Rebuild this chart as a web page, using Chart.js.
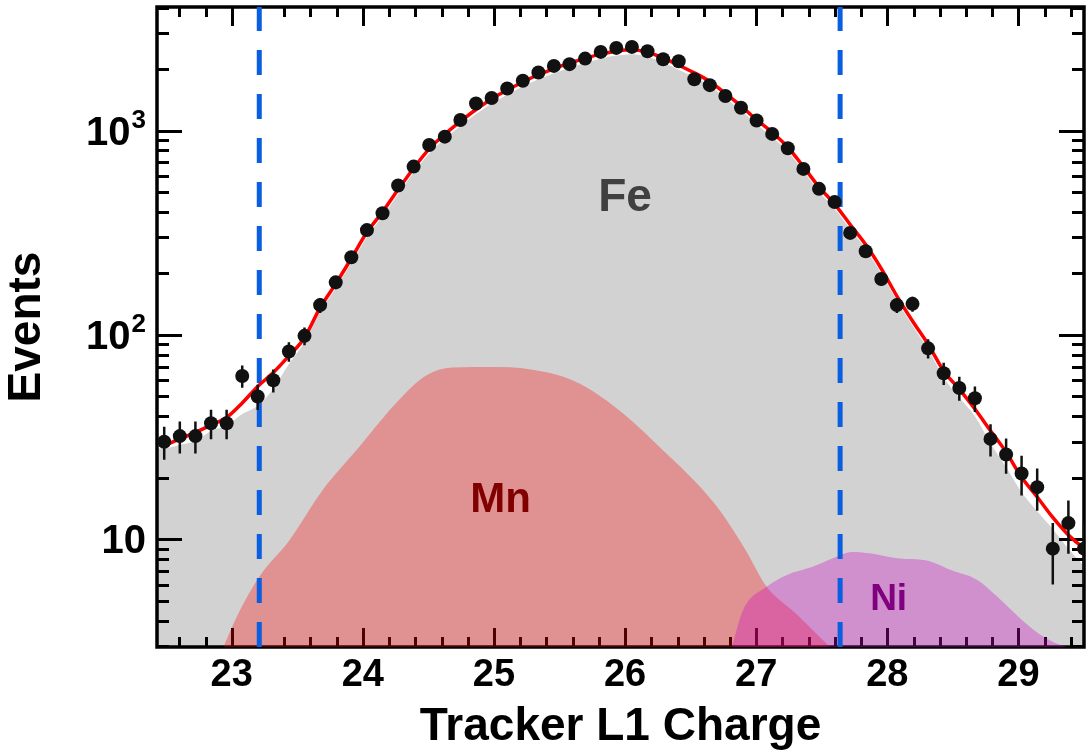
<!DOCTYPE html>
<html>
<head>
<meta charset="utf-8">
<script src="https://cdn.jsdelivr.net/npm/chart.js@4.4.0/dist/chart.umd.min.js"></script>
<style>
  html, body { margin: 0; padding: 0; background: #fff; }
</style>
</head>
<body>
<canvas id="chargeChart" width="1091" height="755"></canvas>
<script>
// Axis ranges
const X_MIN = 22.43, X_MAX = 29.5;
const Y_MIN = 2.97, Y_MAX = 4030;

// Tick labels (y labels are 10 to the power of the exponent)
const xTickLabels = [23, 24, 25, 26, 27, 28, 29];
const yTickValues = [10, 100, 1000];
const yTickExponents = ['', '2', '3'];

// Histogram bins (charge bin centres), measured counts and errors
const binCenters = [22.485, 22.604, 22.723, 22.842, 22.961, 23.080, 23.198, 23.317, 23.436, 23.555,
  23.674, 23.793, 23.912, 24.031, 24.150, 24.269, 24.387, 24.506, 24.625, 24.744,
  24.863, 24.982, 25.101, 25.220, 25.339, 25.457, 25.576, 25.695, 25.814, 25.933,
  26.052, 26.171, 26.290, 26.409, 26.528, 26.646, 26.765, 26.884, 27.003, 27.122,
  27.241, 27.360, 27.479, 27.598, 27.717, 27.835, 27.954, 28.073, 28.192, 28.311,
  28.430, 28.549, 28.668, 28.787, 28.906, 29.024, 29.143, 29.262, 29.381, 29.500];
const eventCounts = [30, 32, 32, 37, 37, 63, 50, 60, 83, 99,
  140, 181, 240, 326, 394, 539, 667, 851, 935, 1128,
  1358, 1444, 1608, 1754, 1925, 2075, 2116, 2253, 2429, 2541,
  2570, 2448, 2238, 2188, 1786, 1670, 1477, 1294, 1122, 964,
  820, 650, 519, 447, 316, 257, 188, 140, 142, 86,
  65, 55, 49, 31, 26, 21, 18, 9, 12, 9];
const countErrors = [5.5, 5.7, 5.7, 6.1, 6.1, 7.9, 7.1, 7.7, 9.1, 9.9,
  11.8, 13.5, 15.5, 18.1, 19.8, 23.2, 25.8, 29.2, 30.6, 33.6,
  36.9, 38.0, 40.1, 41.9, 43.9, 45.6, 46.0, 47.5, 49.3, 50.4,
  50.7, 49.5, 47.3, 46.8, 42.3, 40.9, 38.4, 36.0, 33.5, 31.0,
  28.6, 25.5, 22.8, 21.1, 17.8, 16.0, 13.7, 11.8, 11.9, 9.3,
  8.1, 7.4, 7.0, 5.6, 5.1, 4.6, 4.2, 3.0, 3.5, 3.0];

// Template fit: total and the Fe component at the same bins
const totalFit = [28.7, 31, 33.4, 36.2, 39.5, 46.5, 56, 65.5, 79, 97,
  136, 178, 237, 318, 400, 515, 655, 815, 960, 1110,
  1270, 1430, 1580, 1730, 1880, 2010, 2140, 2260, 2370, 2450,
  2490, 2420, 2270, 2090, 1920, 1740, 1520, 1320, 1130, 980,
  830, 667, 530, 437, 347, 277, 211, 155, 117, 90,
  66.7, 54.3, 43.4, 34, 26.7, 20.1, 16.1, 12.8, 10.5, 9.0];
const feTemplate = [27.8, 29, 30.4, 33.9, 36, 41, 45, 54.6, 72, 92,
  130, 169, 225, 302, 380, 489, 622, 774, 912, 1055,
  1205, 1360, 1500, 1645, 1785, 1910, 2035, 2145, 2250, 2330,
  2365, 2300, 2155, 1985, 1825, 1655, 1445, 1255, 1075, 930,
  790, 634, 503, 415, 330, 263, 200, 147, 111, 85,
  62, 49.4, 40, 29.5, 22.5, 17, 13.7, 11.2, 9.0, 7.4];

// Mn and Ni templates
const mnCharge = [22.93, 23.04, 23.21, 23.44, 23.69, 23.97, 24.27, 24.48, 24.68, 25.03,
  25.41, 25.66, 25.99, 26.29, 26.55, 26.72, 26.92, 27.08, 27.30, 27.48, 27.58];
const mnEvents = [2.9, 4.2, 6.55, 9.9, 17.3, 28.2, 47.6, 63.1, 69.3, 69.8,
  65.5, 57.5, 41, 27.2, 18.7, 13.9, 8.84, 5.85, 4.34, 3.34, 2.9];
const niCharge = [26.81, 26.90, 27.08, 27.23, 27.43, 27.58, 27.73, 27.88, 28.09, 28.29,
  28.49, 28.69, 28.84, 29.00, 29.15, 29.32, 29.46];
const niEvents = [2.9, 4.5, 5.85, 6.67, 7.33, 8.05, 8.67, 8.52, 8.05, 7.9,
  7.06, 6.31, 5.23, 4.18, 3.47, 3.04, 2.9];

// Selection cuts
const chargeCuts = [23.21, 27.64];

const BOLD = 'bold';
const FONT = "'Liberation Sans', Arial, sans-serif";

function toPoints(xs, ys) {
  return xs.map((x, i) => ({ x, y: ys[i] }));
}

const fePoints = [{ x: X_MIN, y: feTemplate[0] }].concat(toPoints(binCenters, feTemplate));

const cutDatasets = chargeCuts.map(c => ({
  type: 'line',
  data: [{ x: c, y: Y_MIN }, { x: c, y: Y_MAX }],
  borderColor: '#0a5ee0',
  borderWidth: 5,
  borderDash: [25, 19],
  pointRadius: 0,
  order: 7
}));

// Frame and inward ticks on all four sides, drawn right after the Fe fill
// so the translucent Mn / Ni areas tint them
const frameTicks = {
  id: 'frameTicks',
  afterDatasetDraw(chart, args) {
    if (args.index !== 0) return;
    const { ctx, chartArea: a, scales: { x, y } } = chart;
    ctx.save();
    ctx.strokeStyle = '#000';
    ctx.lineWidth = 3;
    ctx.beginPath();
    for (let v = 22.6; v < X_MAX; v += 0.2) {
      const px = Math.round(x.getPixelForValue(v)) + 0.5;
      const major = Math.abs(v - Math.round(v)) < 0.01;
      const len = major ? 19 : 10;
      ctx.moveTo(px, a.bottom); ctx.lineTo(px, a.bottom - len);
      ctx.moveTo(px, a.top); ctx.lineTo(px, a.top + len);
    }
    for (let dec = 1; dec <= 1000; dec *= 10) {
      for (let m = 1; m <= 9; m++) {
        const v = m * dec;
        if (v < Y_MIN || v > Y_MAX) continue;
        const py = Math.round(y.getPixelForValue(v)) + 0.5;
        const len = m === 1 ? 25 : 12;
        ctx.moveTo(a.left, py); ctx.lineTo(a.left + len, py);
        ctx.moveTo(a.right, py); ctx.lineTo(a.right - len, py);
      }
    }
    ctx.stroke();
    ctx.lineWidth = 3.5;
    ctx.strokeRect(a.left, a.top, a.right - a.left, a.bottom - a.top);
    ctx.restore();
  }
};

// Vertical error bars under the data points
const errorBars = {
  id: 'errorBars',
  beforeDatasetDraw(chart, args) {
    if (args.index !== chart.data.datasets.length - 1) return;
    const { ctx, chartArea: a, scales: { x, y } } = chart;
    ctx.save();
    ctx.beginPath();
    ctx.rect(a.left, a.top, a.right - a.left, a.bottom - a.top);
    ctx.clip();
    ctx.strokeStyle = '#111';
    ctx.lineWidth = 2.5;
    ctx.beginPath();
    binCenters.forEach((c, i) => {
      const px = x.getPixelForValue(c);
      ctx.moveTo(px, y.getPixelForValue(eventCounts[i] + countErrors[i]));
      ctx.lineTo(px, y.getPixelForValue(Math.max(eventCounts[i] - countErrors[i], 0.5)));
    });
    ctx.stroke();
    ctx.restore();
  }
};

// Y tick labels with superscript exponents
const yPowerLabels = {
  id: 'yPowerLabels',
  afterDraw(chart) {
    const { ctx, chartArea: a, scales: { y } } = chart;
    ctx.save();
    ctx.fillStyle = '#000';
    ctx.textBaseline = 'alphabetic';
    ctx.textAlign = 'left';
    const right = a.left - 11;
    yTickValues.forEach((v, i) => {
      const py = y.getPixelForValue(v);
      const exp = yTickExponents[i];
      ctx.font = `${BOLD} 26px ${FONT}`;
      const expW = exp ? ctx.measureText(exp).width + 1 : 0;
      ctx.font = `${BOLD} 40px ${FONT}`;
      const baseW = ctx.measureText('10').width;
      const x0 = right - expW - baseW;
      ctx.fillText('10', x0, py + 14);
      if (exp) {
        ctx.font = `${BOLD} 26px ${FONT}`;
        ctx.fillText(exp, x0 + baseW + 1, py - 3);
      }
    });
    ctx.restore();
  }
};

// Component names inside the filled areas
const componentLabels = {
  id: 'componentLabels',
  afterDatasetsDraw(chart) {
    const { ctx, scales: { x, y } } = chart;
    const items = [
      { text: 'Fe', x: 26.0, y: 466, color: '#404040', size: 46 },
      { text: 'Mn', x: 25.05, y: 15.5, color: '#800000', size: 42 },
      { text: 'Ni', x: 28.01, y: 5.04, color: '#800080', size: 37 }
    ];
    ctx.save();
    ctx.textAlign = 'center';
    ctx.textBaseline = 'middle';
    items.forEach(it => {
      ctx.font = `${BOLD} ${it.size}px ${FONT}`;
      ctx.fillStyle = it.color;
      ctx.fillText(it.text, x.getPixelForValue(it.x), y.getPixelForValue(it.y));
    });
    ctx.restore();
  }
};

new Chart(document.getElementById('chargeChart'), {
  type: 'scatter',
  data: {
    datasets: [
      {
        label: 'Fe',
        type: 'line',
        data: fePoints,
        fill: 'start',
        backgroundColor: '#d2d2d2',
        borderWidth: 0,
        pointRadius: 0,
        cubicInterpolationMode: 'monotone',
        order: 10
      },
      {
        label: 'Mn',
        type: 'line',
        data: toPoints(mnCharge, mnEvents),
        fill: 'start',
        backgroundColor: 'rgba(255, 0, 0, 0.31)',
        borderWidth: 0,
        pointRadius: 0,
        cubicInterpolationMode: 'monotone',
        order: 9
      },
      {
        label: 'Ni',
        type: 'line',
        data: toPoints(niCharge, niEvents),
        fill: 'start',
        backgroundColor: 'rgba(203, 9, 194, 0.33)',
        borderWidth: 0,
        pointRadius: 0,
        cubicInterpolationMode: 'monotone',
        order: 8
      },
      ...cutDatasets,
      {
        label: 'Fit',
        type: 'line',
        data: toPoints(binCenters, totalFit),
        borderColor: '#ff0000',
        borderWidth: 3.5,
        pointRadius: 0,
        fill: false,
        cubicInterpolationMode: 'monotone',
        order: 6
      },
      {
        label: 'Data',
        data: toPoints(binCenters, eventCounts),
        showLine: false,
        pointRadius: 7,
        pointBackgroundColor: '#111',
        pointBorderWidth: 0,
        order: 5
      }
    ]
  },
  options: {
    responsive: false,
    animation: false,
    layout: { padding: { top: 5, right: 3, left: 0, bottom: 0 } },
    plugins: {
      legend: { display: false },
      tooltip: { enabled: false }
    },
    scales: {
      x: {
        type: 'linear',
        min: X_MIN,
        max: X_MAX,
        grid: { display: false, drawTicks: false },
        border: { display: false },
        afterBuildTicks: s => { s.ticks = xTickLabels.map(v => ({ value: v })); },
        afterFit: s => {
          s.height = 108;
          s.paddingLeft = 0;
          s.paddingRight = 0;
        },
        ticks: {
          color: '#000',
          padding: 6,
          maxRotation: 0,
          autoSkip: false,
          font: { family: FONT, size: 38, weight: BOLD }
        },
        title: {
          display: true,
          text: 'Tracker L1 Charge',
          color: '#000',
          padding: 0,
          font: { family: FONT, size: 46, weight: BOLD }
        }
      },
      y: {
        type: 'logarithmic',
        min: Y_MIN,
        max: Y_MAX,
        grid: { display: false, drawTicks: false },
        border: { display: false },
        afterBuildTicks: s => { s.ticks = yTickValues.map(v => ({ value: v })); },
        afterFit: s => {
          s.width = 157;
          s.paddingTop = 0;
          s.paddingBottom = 0;
        },
        ticks: { display: false },
        title: {
          display: true,
          text: 'Events',
          color: '#000',
          padding: 0,
          font: { family: FONT, size: 46, weight: BOLD }
        }
      }
    }
  },
  plugins: [frameTicks, errorBars, yPowerLabels, componentLabels]
});
</script>
</body>
</html>
